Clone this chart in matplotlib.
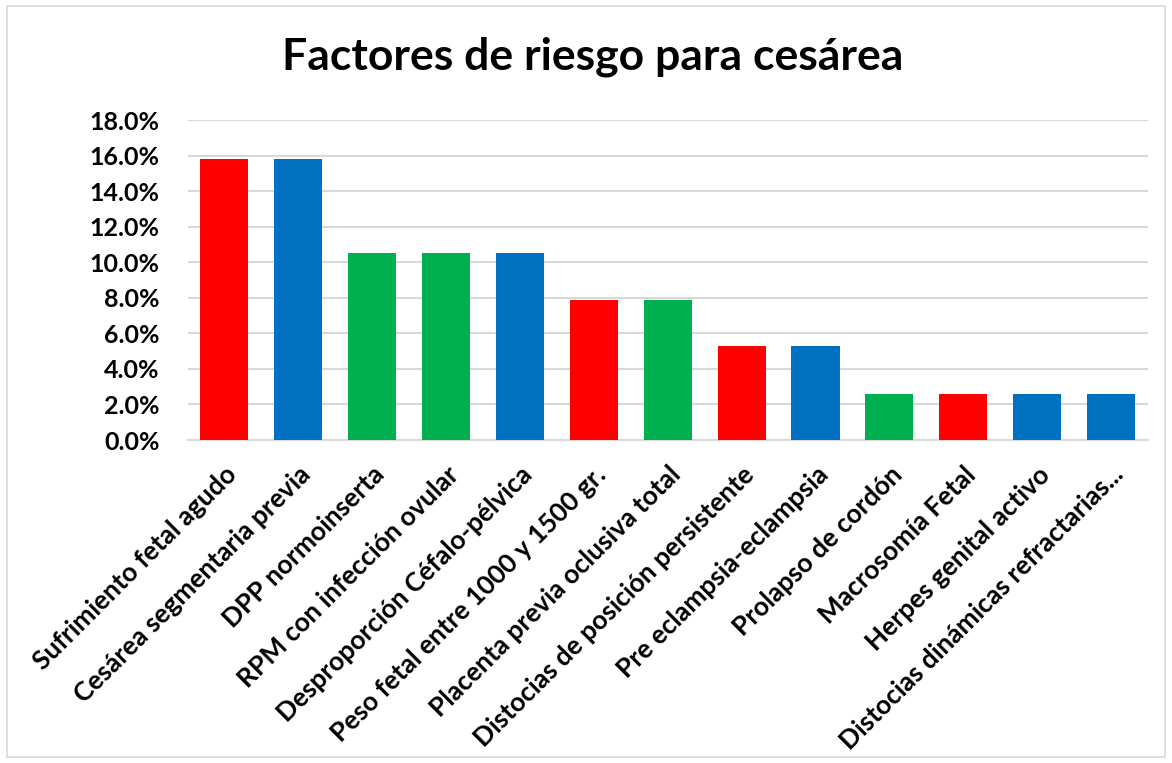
import matplotlib.pyplot as plt
from matplotlib.patches import Rectangle
from matplotlib.ticker import PercentFormatter

plt.rcParams['font.family'] = ['Lato', 'DejaVu Sans']

# datos
factores = [
    "Sufrimiento fetal agudo",
    "Cesárea segmentaria previa",
    "DPP normoinserta",
    "RPM con infección ovular",
    "Desproporción Céfalo-pélvica",
    "Peso fetal entre 1000 y 1500 gr.",
    "Placenta previa oclusiva total",
    "Distocias de posición persistente",
    "Pre eclampsia-eclampsia",
    "Prolapso de cordón",
    "Macrosomía Fetal",
    "Herpes genital activo",
    "Distocias dinámicas refractarias...",
]
porcentajes = [0.158, 0.158, 0.105, 0.105, 0.105, 0.079, 0.079,
               0.053, 0.053, 0.026, 0.026, 0.026, 0.026]
ROJO, AZUL, VERDE = "#FF0000", "#0070C0", "#00B050"
colores = [ROJO, AZUL, VERDE, VERDE, AZUL, ROJO, VERDE,
           ROJO, AZUL, VERDE, ROJO, AZUL, AZUL]

fig = plt.figure(figsize=(11.72, 7.63), dpi=100)
ax = fig.add_axes([0.160, 0.4233, 0.8195, 0.4194])

x = range(len(factores))
ax.bar(x, porcentajes, width=0.65, color=colores, zorder=3)

ax.set_xlim(-0.5, len(factores) - 0.5)
ax.set_ylim(0, 0.18)
ax.set_yticks([i * 0.02 for i in range(10)])
ax.yaxis.set_major_formatter(PercentFormatter(1.0, decimals=1))
ax.grid(axis='y', color='#D9D9D9', linewidth=1.5, zorder=0)

for s in ['top', 'right', 'left']:
    ax.spines[s].set_visible(False)
ax.spines['bottom'].set_color('#D9D9D9')
ax.spines['bottom'].set_linewidth(1.5)

ax.tick_params(axis='both', length=0)
ax.tick_params(axis='y', pad=20, labelsize=18)
ax.set_yticklabels(ax.get_yticklabels(), fontweight='bold')

ax.set_xticks(list(x))
ax.set_xticklabels(factores, rotation=45, ha='right', rotation_mode='anchor',
                   fontsize=19, fontweight='bold')
ax.tick_params(axis='x', pad=16)

fig.text(0.506, 0.925, "Factores de riesgo para cesárea", ha='center', va='center',
         fontsize=32, fontweight='bold')

# marco del gráfico
fig.patches.append(Rectangle((7 / 1172, 6 / 763), 1158 / 1172, 751 / 763,
                             transform=fig.transFigure, fill=False,
                             edgecolor='#D9D9D9', linewidth=1.2))

fig.savefig("out.png", dpi=100)
